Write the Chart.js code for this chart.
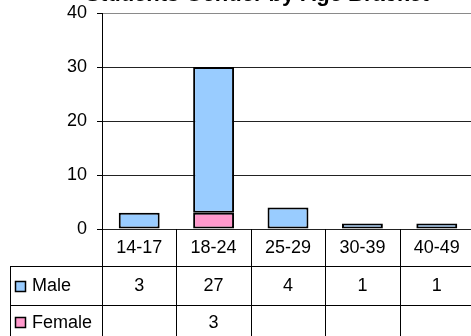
<!DOCTYPE html>
<html>
<head>
<meta charset="utf-8">
<script src="https://cdn.jsdelivr.net/npm/chart.js@4"></script>
<style>
  html, body { margin: 0; padding: 0; background: #ffffff; overflow: hidden; }
  #wrap { width: 471px; height: 336px; overflow: hidden; }
</style>
</head>
<body>
<div id="wrap"><canvas id="c" width="476" height="336"></canvas></div>
<script>
const chartTitle = 'Students Gender by Age Bracket';
const ageGroups = ['14-17', '18-24', '25-29', '30-39', '40-49'];
const maleCounts = [3, 27, 4, 1, 1];
const femaleCounts = [null, 3, null, null, null];
const yTicks = [0, 10, 20, 30, 40];

const FONT = '"Liberation Sans", Arial, sans-serif';
const MALE_FILL = '#99CCFF';
const FEMALE_FILL = '#FF99CC';

// Title sits above the canvas edge; only its lower part shows.
const titlePlugin = {
  id: 'clippedTitle',
  afterDraw(chart) {
    const ctx = chart.ctx;
    ctx.save();
    ctx.font = 'bold 22px ' + FONT;
    ctx.fillStyle = '#000';
    ctx.textAlign = 'center';
    ctx.textBaseline = 'alphabetic';
    ctx.fillText(chartTitle, 257, 1);
    ctx.restore();
  }
};

// Data table under the plot: category row, then one row per series.
const tablePlugin = {
  id: 'dataTable',
  afterDraw(chart) {
    const ctx = chart.ctx;
    const area = chart.chartArea;
    const xs = chart.scales.x;
    const n = ageGroups.length;
    const rowTop = Math.round(area.bottom);
    const row1 = rowTop + 37;
    const row2 = row1 + 39;
    const bottom = chart.height + 10;
    const tableLeft = 10;

    const edges = [];
    for (let i = 0; i <= n; i++) edges.push(Math.round(xs.getPixelForValue(i - 0.5)));

    ctx.save();
    ctx.strokeStyle = '#000';
    ctx.lineWidth = 1;
    ctx.beginPath();
    // horizontal rules
    [row1, row2].forEach(y => {
      ctx.moveTo(tableLeft, y + 0.5);
      ctx.lineTo(chart.width, y + 0.5);
    });
    // left edge of the series header column
    ctx.moveTo(tableLeft + 0.5, row1);
    ctx.lineTo(tableLeft + 0.5, bottom);
    // column dividers
    edges.forEach(x => {
      ctx.moveTo(x + 0.5, rowTop);
      ctx.lineTo(x + 0.5, bottom);
    });
    ctx.stroke();

    ctx.font = '18px ' + FONT;
    ctx.fillStyle = '#000';
    ctx.textAlign = 'center';
    ctx.textBaseline = 'middle';
    const rowMid = [(rowTop + row1) / 2 + 1, (row1 + row2) / 2 + 1, row2 + 18];
    ageGroups.forEach((g, i) => {
      const cx = xs.getPixelForValue(i);
      ctx.fillText(g, cx, rowMid[0]);
      if (maleCounts[i] != null) ctx.fillText(String(maleCounts[i]), cx, rowMid[1]);
      if (femaleCounts[i] != null) ctx.fillText(String(femaleCounts[i]), cx, rowMid[2]);
    });

    // legend keys in the header column
    const keys = [
      { label: 'Male', fill: MALE_FILL, y: rowMid[1] },
      { label: 'Female', fill: FEMALE_FILL, y: rowMid[2] }
    ];
    ctx.textAlign = 'left';
    keys.forEach(k => {
      const sx = 15, sy = Math.round(k.y - 6);
      ctx.fillStyle = k.fill;
      ctx.fillRect(sx, sy, 11, 11);
      ctx.strokeStyle = '#000';
      ctx.lineWidth = 1.5;
      ctx.strokeRect(sx + 0.5, sy + 0.5, 10, 10);
      ctx.fillStyle = '#000';
      ctx.fillText(k.label, 32, k.y);
    });
    ctx.restore();
  }
};

new Chart(document.getElementById('c'), {
  type: 'bar',
  data: {
    labels: ageGroups,
    datasets: [
      {
        label: 'Female',
        data: femaleCounts,
        backgroundColor: FEMALE_FILL,
        borderColor: '#000',
        borderWidth: 2,
        borderSkipped: false
      },
      {
        label: 'Male',
        data: maleCounts,
        backgroundColor: MALE_FILL,
        borderColor: '#000',
        borderWidth: 2,
        borderSkipped: false
      }
    ]
  },
  options: {
    responsive: false,
    animation: false,
    layout: { padding: { top: 13, bottom: 107, left: 0, right: 2 } },
    datasets: { bar: { barPercentage: 0.55, categoryPercentage: 1.0 } },
    plugins: {
      legend: { display: false },
      tooltip: { enabled: false },
      title: { display: false }
    },
    scales: {
      x: {
        stacked: true,
        display: false,
        offset: true
      },
      y: {
        stacked: true,
        min: yTicks[0],
        max: yTicks[yTicks.length - 1],
        afterBuildTicks(scale) {
          scale.ticks = yTicks.map(v => ({ value: v }));
        },
        afterFit(scale) {
          scale.width = 102;
          scale.paddingTop = 0;
          scale.paddingBottom = 0;
        },
        border: { display: true, color: '#000', width: 1 },
        grid: {
          color: ctx => (ctx.tick && ctx.tick.value === 40 ? '#8a8a8a' : '#222'),
          lineWidth: 1,
          tickLength: 5,
          tickColor: '#000'
        },
        ticks: {
          color: '#000',
          padding: 10,
          font: { family: FONT, size: 18 }
        }
      }
    }
  },
  plugins: [tablePlugin, titlePlugin]
});
</script>
</body>
</html>
